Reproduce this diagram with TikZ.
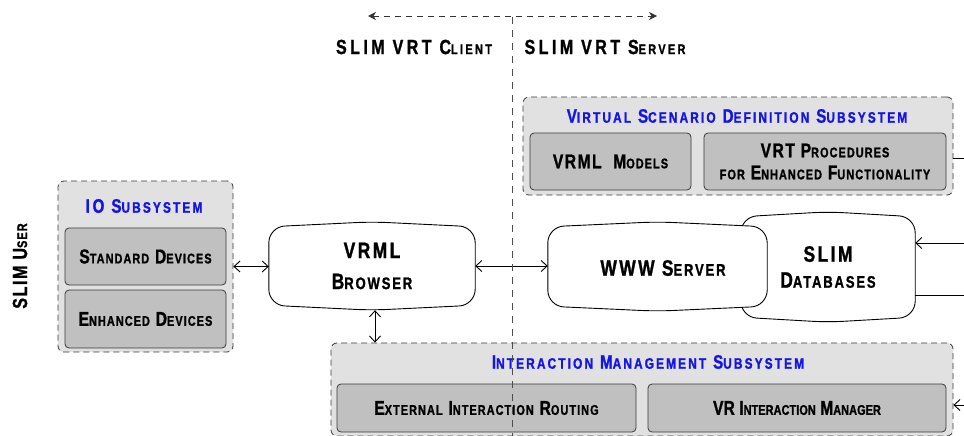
\documentclass[tikz,border=0pt]{standalone}
\usepackage{fontspec}
\setmainfont{Liberation Sans}[FakeStretch=0.78, BoldFeatures={FakeBold=1.2}]
\usetikzlibrary{arrows.meta,backgrounds,calc}
\definecolor{outerfill}{HTML}{E1E1E1}
\definecolor{innerfill}{HTML}{C0C0C0}
\definecolor{edge}{HTML}{3A3A3A}
\definecolor{ttl}{HTML}{1414E6}
\def\skr{0.7}
\makeatletter
\newcommand\sk[1]{{\fontsize{\fpeval{\skr*\f@size}}{\f@baselineskip}\selectfont #1}}
\makeatother
\newcommand\blobshape[1]{\draw[line width=0.9pt, fill=white, rounded corners=16pt]
  ($(#1.south west)+(0,-5)$) -- ($(#1.north west)+(0,5)$) -- (#1.north) --
  ($(#1.north east)+(0,5)$) -- ($(#1.south east)+(0,-5)$) -- (#1.south) -- cycle;}
\begin{document}
\begin{tikzpicture}[x=1pt,y=-1pt,
  lbl/.style={font=\def\skr{0.7}\fontsize{20}{22}\selectfont\bfseries\addfontfeature{LetterSpace=7.5}, inner sep=0pt, align=center},
  hdr/.style={lbl, font=\def\skr{0.68}\fontsize{20.5}{22}\selectfont\bfseries\addfontfeature{LetterSpace=17}},
  subsys/.style={draw=edge, dash pattern=on 6pt off 4pt, fill=outerfill, rounded corners=6pt, line width=0.8pt, inner sep=0pt},
  part/.style={lbl, draw=edge, fill=innerfill, rounded corners=4pt, line width=0.8pt},
  ttlstyle/.style={lbl, text=ttl, font=\def\skr{0.78}\fontsize{19.5}{20}\selectfont\bfseries\addfontfeature{LetterSpace=14}},
  blob/.style={lbl, font=\def\skr{0.75}\fontsize{22.3}{#1}\selectfont\bfseries\addfontfeature{LetterSpace=11}},
  blob/.default=24,
  barb/.tip={Straight Barb[length=6pt,width=11pt,line width=0.9pt]},
  arr/.style={{barb}-{barb}, line width=0.8pt},
  arrin/.style={-{barb}, line width=0.8pt},
  plain/.style={line width=0.8pt},
  divider/.style={line width=0.8pt, draw=black!70, dash pattern=on 7pt off 6pt},
  topar/.style={line width=0.7pt, draw=black!80, dash pattern=on 6pt off 5pt, {Stealth[length=8pt,width=8pt,inset=2.5pt]}-{Stealth[length=8pt,width=8pt,inset=2.5pt]}}
]
\useasboundingbox (0,0) rectangle (964,436);

% headers
\node[hdr] (hdrL) at (414,47) {SLIM VRT C\sk{LIENT}};
\node[hdr] (hdrR) at (605,47) {SLIM VRT S\sk{ERVER}};
\node[hdr, rotate=90, font=\def\skr{0.68}\fontsize{20.5}{22}\selectfont\bfseries\addfontfeature{LetterSpace=8}] (user) at (20,266) {SLIM U\sk{SER}};

% IO subsystem
\node[subsys, minimum width=175pt, minimum height=171pt] (io) at (145.5,266.5) {};
\node[ttlstyle] (iottl) at (144,206) {IO S\sk{UBSYSTEM}};
\node[part, minimum width=161pt, minimum height=57pt] (std) at (145.5,256.5) {S\sk{TANDARD} D\sk{EVICES}};
\node[part, minimum width=161pt, minimum height=58pt] (enh) at (145.5,319) {E\sk{NHANCED} D\sk{EVICES}};

% VSDS
\node[subsys, minimum width=430pt, minimum height=98pt] (vsds) at (738,146) {};
\node[ttlstyle] (vsdsttl) at (737,116) {V\sk{IRTUAL} S\sk{CENARIO} D\sk{EFINITION} S\sk{UBSYSTEM}};
\node[part, minimum width=161pt, minimum height=57pt] (models) at (610.5,161.5) {VRML~~M\sk{ODELS}};
\node[part, minimum width=242pt, minimum height=57pt, font=\def\skr{0.7}\fontsize{20}{22}\selectfont\bfseries\addfontfeature{LetterSpace=7.5}] (proc) at (825,161.5) {VRT P\sk{ROCEDURES}\\\sk{FOR} E\sk{NHANCED} F\sk{UNCTIONALITY}};

% IMS
\node[subsys, minimum width=622pt, minimum height=93pt] (ims) at (642,389.5) {};
\node[ttlstyle] (imsttl) at (648,362) {I\sk{NTERACTION} M\sk{ANAGEMENT} S\sk{UBSYSTEM}};
\node[part, minimum width=299pt, minimum height=48pt] (ext) at (486.5,408) {E\sk{XTERNAL} I\sk{NTERACTION} R\sk{OUTING}};
\node[part, minimum width=298pt, minimum height=48pt, font=\def\skr{0.7}\fontsize{20}{22}\selectfont\bfseries\addfontfeature{LetterSpace=0.5}] (vrim) at (797,408) {VR I\sk{NTERACTION} M\sk{ANAGER}};

% blobs
\node[blob=31, minimum width=206pt, minimum height=88pt] (browser) at (372,266) {VRML\\B\sk{ROWSER}};
\node[blob=26, minimum width=174pt, minimum height=110pt] (db) at (828,267) {SLIM\\D\sk{ATABASES}};
\node[blob, minimum width=219pt, minimum height=89pt] (www) at (657.5,266.5) {};
\node[blob] (wwwtxt) at (663,268) {WWW S\sk{ERVER}};
\begin{scope}[on background layer]
  \blobshape{db}
  \blobshape{www}
  \blobshape{browser}
\end{scope}

% connectors
\draw[arr] (io.east) -- (io.east -| browser.west);
\draw[arr] (browser.east) -- (browser.east -| www.west);
\draw[arr] ([xshift=3pt]browser.south) -- ([xshift=3pt]browser.south |- ims.north);

\coordinate (dbin) at (964,243);
\coordinate (dbout) at (964,295);
\coordinate (vsdsout) at (964,158);
\coordinate (imsin) at (964,405);
\draw[arrin] (dbin) -- (dbin -| db.east);
\draw[plain] (dbout) -- (dbout -| db.east);
\draw[plain] (vsdsout) -- (vsdsout -| vsds.east);
\draw[arrin] (imsin) -- (imsin -| ims.east);

% divider
\coordinate (topL) at (368,16);
\coordinate (topR) at (657,16);
\coordinate (vtop) at (512,17);
\coordinate (vbot) at (512,436);
\draw[topar] (topL) -- (topR);
\draw[divider] (vtop) -- (vbot);
\end{tikzpicture}
\end{document}
